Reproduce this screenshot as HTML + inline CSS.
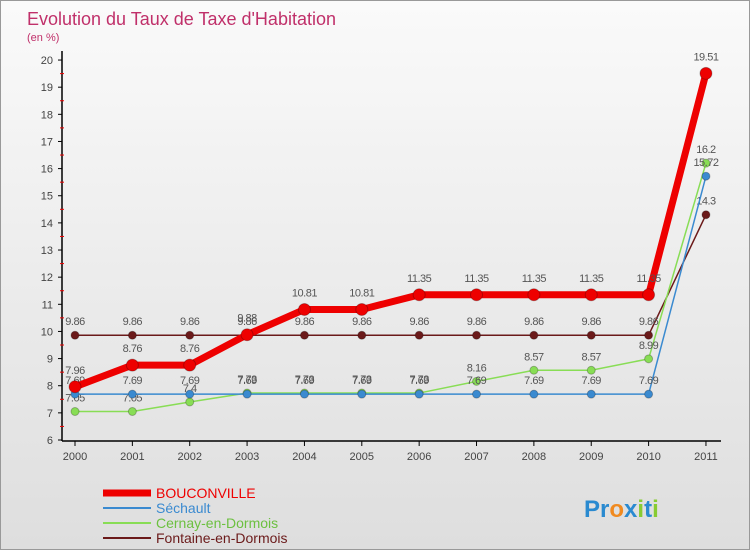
<!DOCTYPE html>
<html><head><meta charset="utf-8"><style>
body{margin:0;width:750px;height:550px;overflow:hidden;font-family:"Liberation Sans",sans-serif}
#wrap{position:relative;width:748px;height:548px;border:1px solid #999;background:linear-gradient(#fafafa,#dedede)}
</style></head><body>
<div id="wrap">
<svg id="chart" width="748" height="548"></svg>
</div>
<script>
const years=[2000,2001,2002,2003,2004,2005,2006,2007,2008,2009,2010,2011];
const bouconville=[7.96,8.76,8.76,9.88,10.81,10.81,11.35,11.35,11.35,11.35,11.35,19.51];
const sechault=[7.69,7.69,7.69,7.69,7.69,7.69,7.69,7.69,7.69,7.69,7.69,15.72];
const cernay=[7.05,7.05,7.4,7.73,7.73,7.73,7.73,8.16,8.57,8.57,8.99,16.2];
const fontaine=[9.86,9.86,9.86,9.86,9.86,9.86,9.86,9.86,9.86,9.86,9.86,14.3];
const yTicks=[6,7,8,9,10,11,12,13,14,15,16,17,18,19,20];
const seriesNames=["BOUCONVILLE","Séchault","Cernay-en-Dormois","Fontaine-en-Dormois"];

const svg=document.getElementById('chart');const NS='http://www.w3.org/2000/svg';
function X(i){return 74+i*57.36;}
function Y(v){return 439-(v-6)*27.14;}
function mk(t,a,p){const e=document.createElementNS(NS,t);for(const k in a)e.setAttribute(k,a[k]);(p||svg).appendChild(e);return e;}
function tx(x,y,s,a){const e=mk('text',Object.assign({x:x,y:y},a));e.textContent=s;return e;}
let t=tx(26,24,'Evolution du Taux de Taxe d\'Habitation',{fill:'#c0306a','font-size':18});

t=tx(26,40,'(en %)',{fill:'#c0306a','font-size':11});

let ax=mk('line',{x1:61,y1:50,x2:61,y2:440,stroke:'#000','stroke-width':1.5});

ax=mk('line',{x1:61,y1:440,x2:720,y2:440,stroke:'#000','stroke-width':1.5});

yTicks.forEach(v=>{mk('line',{x1:57,y1:Y(v),x2:61,y2:Y(v),stroke:'#000'});
 let l=tx(52,Y(v)+4,String(v),{'text-anchor':'end','font-size':11,fill:'#444'});
 
 if(v<20)mk('line',{x1:59,y1:Y(v+0.5),x2:63,y2:Y(v+0.5),stroke:'#e00'});});
years.forEach((yr,i)=>{mk('line',{x1:X(i),y1:440,x2:X(i),y2:445,stroke:'#000'});
 let l=tx(X(i),459,String(yr),{'text-anchor':'middle','font-size':11,fill:'#444'});
 });
function series(vals,color,lw,r,name,lblOff){
 const g=mk('g',{});
 mk('polyline',{points:vals.map((v,i)=>X(i)+','+Y(v)).join(' '),fill:'none',stroke:color,'stroke-width':lw,'stroke-linejoin':'round'},g);
 vals.forEach((v,i)=>{const c=mk('circle',{cx:X(i),cy:Y(v),r:r,fill:color,stroke:'rgba(0,0,0,0.25)'},g);
  
  tx(X(i),Y(v)-lblOff,String(v),{'text-anchor':'middle','font-size':11,fill:'#555','letter-spacing':'-0.5'},g);});}
series(fontaine,'#6b1a1a',1.5,4,'series-fontaine',10);
series(cernay,'#88dd55',1.5,4,'series-cernay',10);
series(sechault,'#3a8ad0',1.5,4,'series-sechault',10);
series(bouconville,'#ee0000',7,6,'series-bouconville',13);
const cols=['#ee0000','#3a8ad0','#88dd55','#6b1a1a'],lws=[7,2,2,2];
seriesNames.forEach((n,i)=>{const g=mk('g',{});
 const y=492+i*15;mk('line',{x1:102,y1:y,x2:150,y2:y,stroke:cols[i],'stroke-width':lws[i]},g);
 tx(155,y+5,n,{'font-size':14,fill:cols[i]==='#88dd55'?'#6cc040':cols[i]},g);});
t=mk('text',{x:583,y:516,'font-size':24,'font-weight':'bold'});

[['P','#2a8ad0'],['r','#2a8ad0'],['o','#f08a20'],['x','#2a8ad0'],['i','#88cc33'],['t','#2a8ad0'],['i','#88cc33']].forEach(([c,f])=>{const s=mk('tspan',{fill:f},t);s.textContent=c;});
</script></body></html>
